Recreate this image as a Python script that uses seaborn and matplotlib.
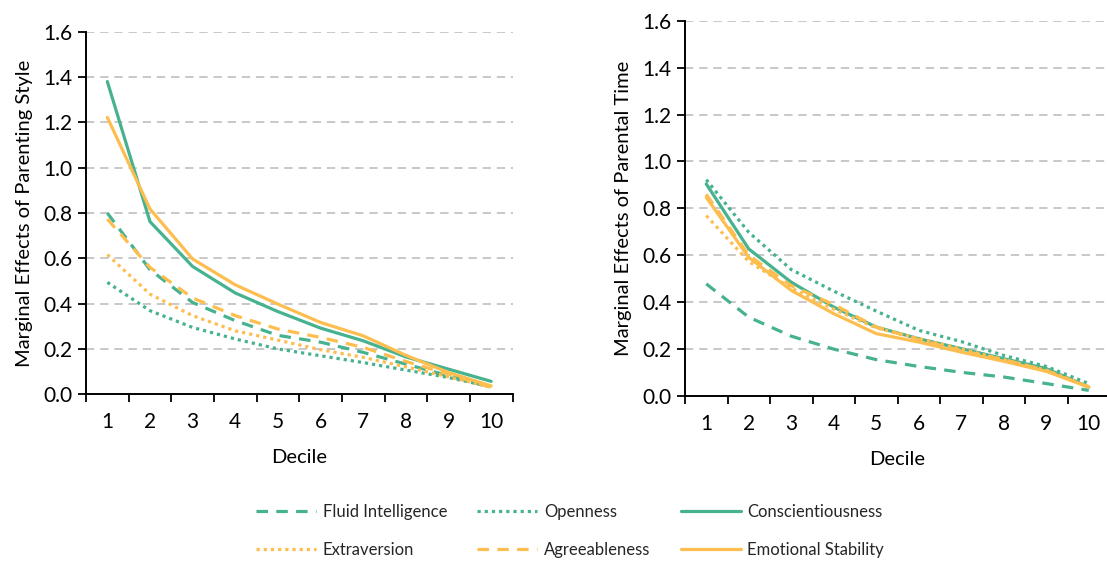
import numpy as np
import pandas as pd
import matplotlib
matplotlib.use("Agg")
import matplotlib.pyplot as plt
from matplotlib.lines import Line2D
from matplotlib.ticker import FixedLocator, FormatStrFormatter
import seaborn as sns

deciles = list(range(1, 11))
traits = ["Fluid Intelligence", "Openness", "Conscientiousness",
          "Extraversion", "Agreeableness", "Emotional Stability"]

# Left panel: Marginal effects of parenting style
style_fluid = [0.80, 0.55, 0.405, 0.325, 0.26, 0.23, 0.185, 0.133, 0.082, 0.03]
style_open = [0.494, 0.369, 0.295, 0.244, 0.20, 0.17, 0.14, 0.107, 0.074, 0.033]
style_consc = [1.38, 0.762, 0.564, 0.447, 0.365, 0.292, 0.236, 0.165, 0.111, 0.057]
style_extra = [0.616, 0.442, 0.347, 0.28, 0.239, 0.197, 0.163, 0.121, 0.077, 0.033]
style_agree = [0.773, 0.56, 0.425, 0.347, 0.288, 0.251, 0.207, 0.145, 0.089, 0.03]
style_emot = [1.222, 0.818, 0.597, 0.483, 0.398, 0.317, 0.258, 0.172, 0.096, 0.037]

# Right panel: Marginal effects of parental time
time_fluid = [0.478, 0.336, 0.255, 0.20, 0.155, 0.126, 0.101, 0.081, 0.053, 0.024]
time_open = [0.922, 0.698, 0.539, 0.447, 0.362, 0.28, 0.232, 0.173, 0.126, 0.053]
time_consc = [0.904, 0.627, 0.485, 0.379, 0.294, 0.244, 0.202, 0.159, 0.117, 0.038]
time_extra = [0.769, 0.573, 0.46, 0.37, 0.29, 0.245, 0.20, 0.155, 0.11, 0.04]
time_agree = [0.86, 0.60, 0.47, 0.39, 0.294, 0.24, 0.194, 0.155, 0.109, 0.038]
time_emot = [0.847, 0.591, 0.45, 0.351, 0.266, 0.23, 0.187, 0.148, 0.105, 0.038]

left_series = [style_fluid, style_open, style_consc, style_extra, style_agree, style_emot]
right_series = [time_fluid, time_open, time_consc, time_extra, time_agree, time_emot]

TEAL = "#47B290"
ORANGE = "#FDBE4F"
palette = {"Fluid Intelligence": TEAL, "Openness": TEAL, "Conscientiousness": TEAL,
           "Extraversion": ORANGE, "Agreeableness": ORANGE, "Emotional Stability": ORANGE}
DASH = (3.6, 2.6)
DOT = (1.0, 1.25)
dashes = {"Fluid Intelligence": DASH, "Openness": DOT, "Conscientiousness": "",
          "Extraversion": DOT, "Agreeableness": DASH, "Emotional Stability": ""}


def to_long(series):
    rows = []
    for t, vals in zip(traits, series):
        for d, v in zip(deciles, vals):
            rows.append({"Decile": d, "value": v, "trait": t})
    return pd.DataFrame(rows)


sns.set_theme(style="white")
plt.rcParams["font.family"] = ["Lato", "DejaVu Sans"]

fig = plt.figure(figsize=(11.07, 5.61), dpi=100)
W, H = 1107, 561
ax1 = fig.add_axes([86 / W, 1 - 394.3 / H, 426.5 / W, 362.6 / H])
ax2 = fig.add_axes([685 / W, 1 - 396 / H, 425 / W, 375.3 / H])

LW = 2.3
for ax, series, ylabel in [(ax1, left_series, "Marginal Effects of Parenting Style"),
                           (ax2, right_series, "Marginal Effects of Parental Time")]:
    df = to_long(series)
    sns.lineplot(data=df, x="Decile", y="value", hue="trait", style="trait",
                 hue_order=traits, style_order=traits,
                 palette=palette, dashes=dashes, linewidth=LW, legend=False, ax=ax)
    ax.set_xlim(0.5, 10.5)
    ax.set_ylim(0, 1.6)
    ax.set_yticks(np.arange(0, 1.61, 0.2))
    ax.yaxis.set_major_formatter(FormatStrFormatter("%.1f"))
    ax.set_xticks(deciles)
    ax.set_xticklabels([str(d) for d in deciles])
    ax.xaxis.set_minor_locator(FixedLocator(np.arange(0.5, 10.6, 1.0)))
    ax.tick_params(axis="x", which="major", length=0, labelsize=15, pad=13, colors="black")
    ax.tick_params(axis="x", which="minor", length=6, width=1.3, color="black", direction="out", bottom=True)
    ax.tick_params(axis="y", which="major", length=6, width=1.3, color="black", direction="out",
                   labelsize=15, pad=4, left=True, labelcolor="black")
    ax.grid(False)
    for y in np.arange(0.2, 1.61, 0.2):
        ax.axhline(y, color="#BFBFBF", lw=1.2, ls=(0, (5, 3.5)), zorder=0)
    for s in ["top", "right"]:
        ax.spines[s].set_visible(False)
    for s in ["left", "bottom"]:
        ax.spines[s].set_color("black")
        ax.spines[s].set_linewidth(1.4)
    ax.set_ylabel(ylabel, fontsize=14.5, color="black", labelpad=7)
    ax.set_xlabel("Decile", fontsize=14.5, color="black", labelpad=12)
    ax.set_facecolor("white")

ax2.spines["bottom"].set_bounds(0.5, 10.5)

handles = []
for t in traits:
    d = dashes[t]
    h = Line2D([0], [0], color=palette[t], lw=LW)
    if d:
        h.set_dashes(d)
    handles.append(h)

order = [0, 3, 1, 4, 2, 5]
fig.legend([handles[i] for i in order], [traits[i] for i in order],
           ncol=3, loc="center", bbox_to_anchor=(0.515, 0.0535), frameon=False,
           fontsize=12, handlelength=3.6, handletextpad=0.4, columnspacing=1.8,
           labelspacing=1.35)

fig.savefig("out.png", dpi=100, facecolor="white")
